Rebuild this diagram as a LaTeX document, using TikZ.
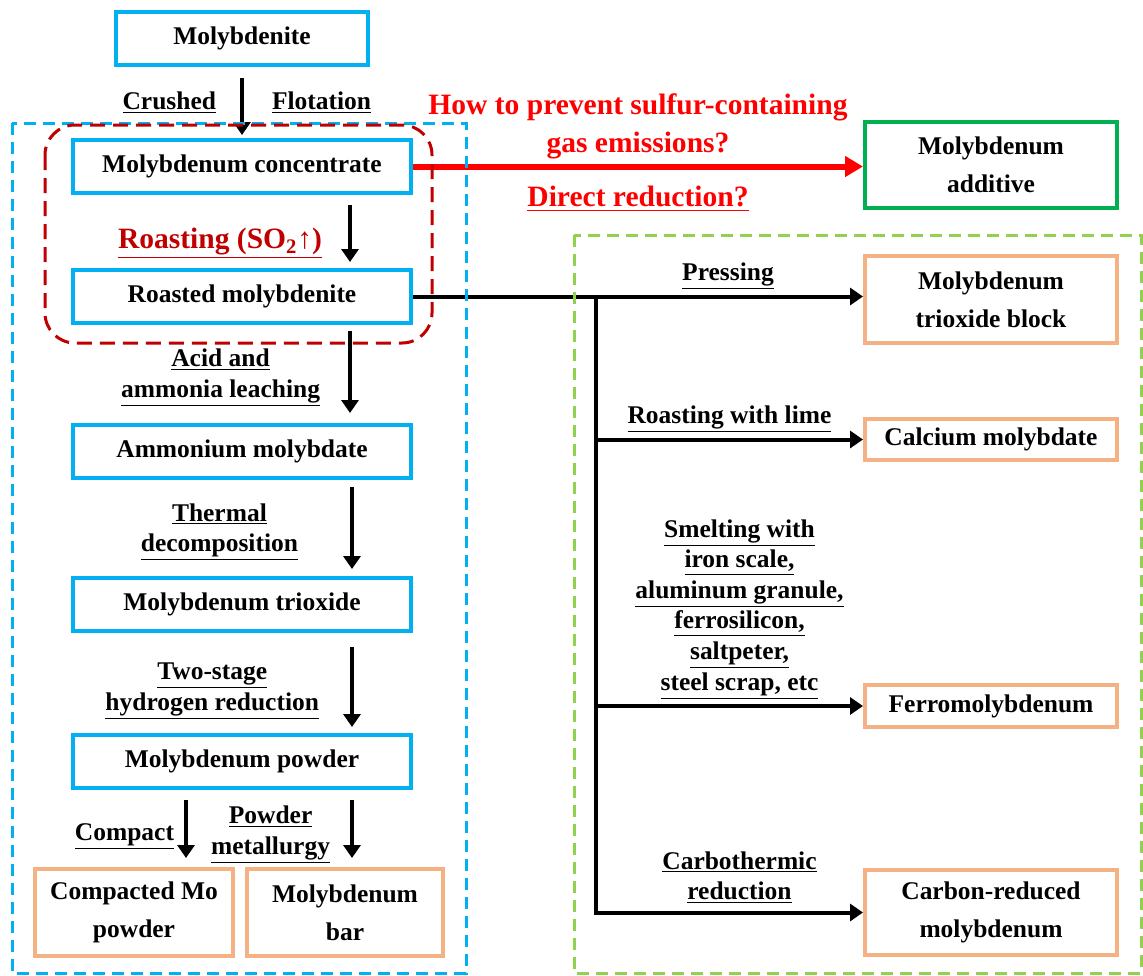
\documentclass[tikz,border=0pt]{standalone}
\usepackage{fontspec}
\setmainfont{Liberation Serif}
\usetikzlibrary{arrows.meta,positioning,calc}

\definecolor{boxblue}{RGB}{0,176,240}
\definecolor{boxorange}{RGB}{244,177,131}
\definecolor{boxgreen}{RGB}{0,176,80}
\definecolor{framegreen}{RGB}{146,208,80}
\definecolor{darkred}{RGB}{192,0,0}

\begin{document}
\begin{tikzpicture}[
  font=\bfseries\fontsize{14.5}{17.4}\selectfont,
  bbox/.style={draw=boxblue, line width=0.08cm, align=center, inner sep=2pt,
    minimum width=6.76cm, minimum height=1.06cm, font=\bfseries\fontsize{14.5}{21.5}\selectfont},
  obox/.style={bbox, draw=boxorange, minimum width=5.04cm},
  gbox/.style={bbox, draw=boxgreen, minimum width=5.04cm},
  lbl/.style={align=center, inner sep=0pt},
  redlbl/.style={lbl, font=\bfseries\fontsize{16.8}{22}\selectfont},
  arr/.style={-{Triangle[length=0.26cm, width=0.34cm]}, line width=0.08cm},
  redarr/.style={-{Triangle[length=0.36cm, width=0.4cm]}, line width=0.12cm, red},
  frame/.style={line width=0.06cm, dash pattern=on 0.24cm off 0.14cm}
]
\useasboundingbox (0,0) rectangle (22.86,-19.5);

% left column: conventional route
\node[bbox, minimum width=5.04cm] (mo) at (4.84,-0.77) {Molybdenite};
\node[bbox, below=1.42cm of mo] (conc) {Molybdenum concentrate};
\node[bbox, below=1.46cm of conc] (roast) {Roasted molybdenite};
\node[bbox, below=1.96cm of roast] (amm) {Ammonium molybdate};
\node[bbox, below=1.92cm of amm] (tri) {Molybdenum trioxide};
\node[bbox, below=2.0cm of tri] (pow) {Molybdenum powder};
\node[obox, minimum width=3.96cm, minimum height=1.74cm] (cmp) at (2.68,-18.25) {Compacted Mo\\powder};
\node[obox, minimum width=3.92cm, minimum height=1.74cm] (bar) at (6.9,-18.25) {Molybdenum\\bar};

% right column: products
\node[gbox, minimum height=1.72cm] (add) at (19.82,-3.3) {Molybdenum\\additive};
\node[obox, minimum height=1.74cm, below=0.88cm of add] (blk) {Molybdenum\\trioxide block};
\node[obox, minimum height=0.82cm, below=1.44cm of blk] (cal) {Calcium molybdate};
\node[obox, minimum height=0.84cm, below=4.42cm of cal] (fer) {Ferromolybdenum};
\node[obox, minimum height=1.7cm, below=2.78cm of fer] (crb) {Carbon-reduced\\molybdenum};

\draw[arr, shorten <=0.22cm, shorten >=0.06cm] (mo) -- (conc)
  node[lbl, midway, left=0.48cm] {\underline{Crushed}}
  node[lbl, midway, right=0.56cm] {\underline{Flotation}};
\draw[arr, shorten <=0.2cm, shorten >=0.12cm] ([xshift=2.16cm]conc.south) -- ([xshift=2.16cm]roast.north)
  node[redlbl, midway, left=0.52cm, yshift=-0.24cm, text=darkred] {\underline{Roasting (SO\textsubscript{2}↑)}};
\draw[arr, shorten <=0.12cm, shorten >=0.2cm] ([xshift=2.16cm]roast.south) -- ([xshift=2.16cm]amm.north)
  node[lbl, midway, left=0.56cm, yshift=-0.08cm] {\underline{Acid and}\\\underline{ammonia leaching}};
\draw[arr, shorten <=0.14cm, shorten >=0.14cm] ([xshift=2.2cm]amm.south) -- ([xshift=2.2cm]tri.north)
  node[lbl, midway, left=1.04cm, yshift=-0.08cm] {\underline{Thermal}\\\underline{decomposition}};
\draw[arr, shorten <=0.28cm, shorten >=0.12cm] ([xshift=2.2cm]tri.south) -- ([xshift=2.2cm]pow.north)
  node[lbl, midway, left=0.62cm, yshift=-0.16cm] {\underline{Two-stage}\\\underline{hydrogen reduction}};
\draw[arr, shorten <=0.2cm, shorten >=0.18cm] ([xshift=-1.12cm]pow.south) -- ([xshift=-1.12cm]pow.south |- cmp.north)
  node[lbl, midway, left=0.2cm, yshift=-0.16cm] {\underline{Compact}};
\draw[arr, shorten <=0.2cm, shorten >=0.18cm] ([xshift=2.2cm]pow.south) -- ([xshift=2.2cm]pow.south |- bar.north)
  node[lbl, midway, left=0.4cm, yshift=-0.12cm] {\underline{Powder}\\\underline{metallurgy}};

% direct reduction question
\draw[redarr] (conc.east) -- (conc.east -| add.west)
  node[redlbl, midway, above=0.08cm, text=red] {How to prevent sulfur-containing\\gas emissions?}
  node[redlbl, midway, below=0.34cm, text=red] {\underline{Direct reduction?}};

% branches from roasted molybdenite
\coordinate (trunk) at ($(roast.east)+(3.66,0)$);
\draw[arr] (roast.east) -- (roast.east -| blk.west)
  node[lbl, pos=0.7, above=0.1cm] {\underline{Pressing}};
\draw[arr] (trunk |- cal.west) -- (cal.west)
  node[lbl, midway, above=0.1cm] {\underline{Roasting with lime}};
\draw[arr] (trunk |- fer.west) -- (fer.west)
  node[lbl, midway, above=0.1cm, xshift=0.2cm] {\underline{Smelting with}\\\underline{iron scale,}\\\underline{aluminum granule,}\\\underline{ferrosilicon,}\\\underline{saltpeter,}\\\underline{steel scrap, etc}};
\draw[arr] (trunk) |- (crb.west)
  node[lbl, pos=0.75, above=0.14cm, xshift=0.2cm] {\underline{Carbothermic}\\\underline{reduction}};

% dashed frames
\draw[boxblue, frame] (0.24,-2.46) rectangle (9.32,-19.46);
\draw[framegreen, frame] (11.48,-4.7) rectangle (22.82,-19.46);
\draw[darkred, frame, dash pattern=on 0.3cm off 0.16cm, rounded corners=0.6cm] (0.9,-2.5) rectangle (8.64,-6.86);
\end{tikzpicture}
\end{document}
